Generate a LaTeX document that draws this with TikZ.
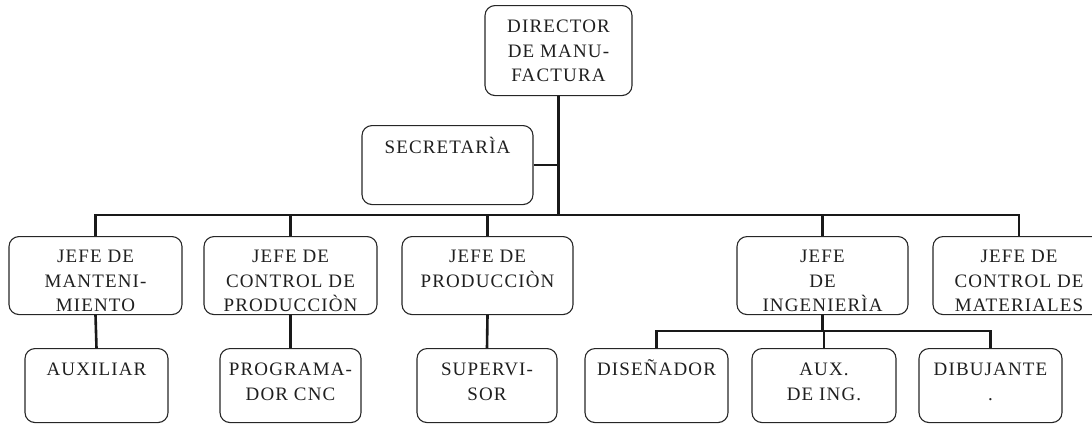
\documentclass[tikz,border=0pt]{standalone}
\usepackage{fontspec}
\setmainfont[LetterSpace=6]{Liberation Serif}
% lines of a box, hanging from the first baseline
\newcommand{\boxlines}[1]{\begin{tabular}[t]{@{}c@{}}#1\end{tabular}}
\begin{document}
\begin{tikzpicture}[x=1pt,y=-1pt,
  orgbox/.style={draw=black!85, line width=1.1pt, rounded corners=10pt,
    anchor=north, inner xsep=2pt, text=black!88,
    font=\fontsize{19}{24.5}\selectfont, text height=14pt},
  lvltwo/.style={orgbox, inner ysep=12pt, text depth=40pt},
  lvlthree/.style={orgbox, inner ysep=13pt, text depth=34pt},
  conn/.style={draw=black!90, line width=2.6pt}]
\useasboundingbox (0,0) rectangle (1092,424);
\clip (0,0) rectangle (1092,424);

% top of the chart
\node[orgbox, inner ysep=13pt, text depth=50pt, minimum width=147pt] (dir) at (558.5,5)
  {\boxlines{DIRECTOR\\DE MANU-\\FACTURA}};
\node[orgbox, inner ysep=14pt, text depth=37pt, minimum width=171pt] (sec) at (447.5,125)
  {\boxlines{SECRETARÌA}};

% department heads
\node[lvltwo, minimum width=173pt] (mant)  at (95.5,236)  {\boxlines{JEFE DE\\MANTENI-\\MIENTO}};
\node[lvltwo, minimum width=173pt] (cprod) at (290.5,236) {\boxlines{JEFE DE\\CONTROL DE\\PRODUCCIÒN}};
\node[lvltwo, minimum width=171pt] (prod)  at (487.5,236) {\boxlines{JEFE DE\\PRODUCCIÒN}};
\node[lvltwo, minimum width=171pt] (ing)   at (822.5,236) {\boxlines{JEFE\\DE\\INGENIERÌA}};
\node[lvltwo, minimum width=172pt] (mat)   at (1019,236)  {\boxlines{JEFE DE\\CONTROL DE\\MATERIALES}};

% staff
\node[lvlthree, minimum width=143pt] (aux)    at (96.5,348)  {\boxlines{AUXILIAR}};
\node[lvlthree, minimum width=141pt] (prog)   at (290.5,348) {\boxlines{PROGRAMA-\\DOR CNC}};
\node[lvlthree, minimum width=140pt] (sup)    at (487,348)   {\boxlines{SUPERVI-\\SOR}};
\node[lvlthree, minimum width=143pt] (dis)    at (656.5,348) {\boxlines{DISEÑADOR}};
\node[lvlthree, minimum width=144pt] (auxing) at (824,348)   {\boxlines{AUX.\\DE ING.}};
\node[lvlthree, minimum width=143pt] (dib)    at (990.5,348) {\boxlines{DIBUJANTE\\.}};

% connectors
\coordinate (bus) at (558,215);
\coordinate (sub) at (823,331);
\draw[conn] (dir.south) -- (dir.south |- bus);
\draw[conn] (sec.east) -- (sec.east -| bus);
\draw[conn] (mant.north) -- (mant.north |- bus) -- (mat.north |- bus) -- (mat.north);
\draw[conn] (cprod.north) -- (cprod.north |- bus);
\draw[conn] (prod.north) -- (prod.north |- bus);
\draw[conn] (ing.north) -- (ing.north |- bus);
\draw[conn] (mant.south) -- (aux.north);
\draw[conn] (cprod.south) -- (prog.north);
\draw[conn] (prod.south) -- (sup.north);
\draw[conn] (ing.south) -- (ing.south |- sub);
\draw[conn] (dis.north) -- (dis.north |- sub) -- (dib.north |- sub) -- (dib.north);
\draw[conn] (auxing.north) -- (auxing.north |- sub);
\end{tikzpicture}
\end{document}
